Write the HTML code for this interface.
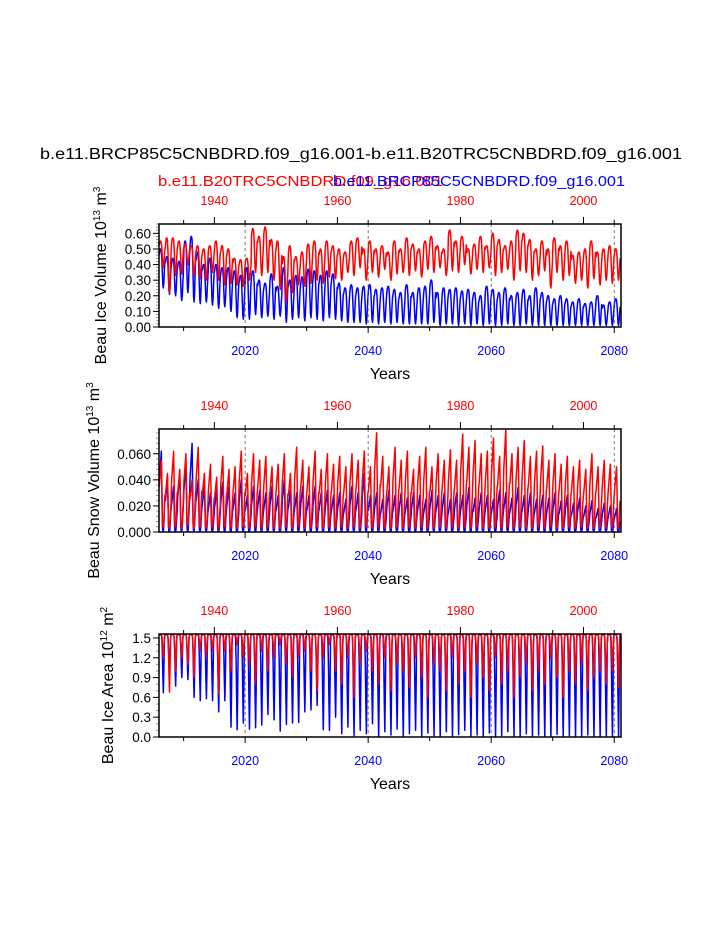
<!DOCTYPE html>
<html><head><meta charset="utf-8">
<style>
html,body{margin:0;padding:0;background:#fff;}
svg{display:block;font-family:"Liberation Sans",Arial,sans-serif;}
</style></head>
<body>
<svg id="chart" width="723" height="935" viewBox="0 0 723 935" xmlns="http://www.w3.org/2000/svg">
<text x="361" y="159" font-size="16" text-anchor="middle" fill="#000" textLength="642" lengthAdjust="spacingAndGlyphs">b.e11.BRCP85C5CNBDRD.f09_g16.001-b.e11.B20TRC5CNBDRD.f09_g16.001</text>
<text x="158" y="186" font-size="15" fill="#ff0000" textLength="285" lengthAdjust="spacingAndGlyphs">b.e11.B20TRC5CNBDRD.f09_g16.001</text>
<text x="625" y="186" font-size="15" text-anchor="end" fill="#0000ff" textLength="292" lengthAdjust="spacingAndGlyphs">b.e11.BRCP85C5CNBDRD.f09_g16.001</text>
<g id="plots"></g>
</svg>
<script>
const blueYearTicks=[2020,2040,2060,2080];
const redYearTicks=[1940,1960,1980,2000];
const startYear=2006;
const shapeVol=[0.85,0.95,1,1,0.95,0.75,0.4,0.08,0,0.15,0.45,0.7];
const shapeSnow=[0.6,0.7,0.8,0.9,1,0.6,0.1,0,0,0.1,0.3,0.45];
const shapeArea=[1,1,1,1,1,0.95,0.7,0.3,0,0.4,0.9,1];

const volRedMax=[0.55,0.57,0.57,0.55,0.53,0.52,0.52,0.50,0.52,0.55,0.52,0.50,0.44,0.43,0.44,0.63,0.58,0.64,0.56,0.55,0.45,0.52,0.45,0.48,0.53,0.55,0.50,0.55,0.52,0.50,0.48,0.55,0.57,0.50,0.55,0.50,0.52,0.48,0.55,0.50,0.57,0.53,0.50,0.55,0.58,0.52,0.50,0.62,0.55,0.58,0.50,0.53,0.58,0.52,0.60,0.56,0.52,0.55,0.62,0.60,0.56,0.50,0.55,0.50,0.57,0.52,0.55,0.46,0.48,0.50,0.55,0.48,0.50,0.52,0.50];
const volRedMin=[0.38,0.22,0.33,0.34,0.40,0.33,0.31,0.30,0.35,0.30,0.27,0.28,0.27,0.26,0.30,0.35,0.33,0.35,0.30,0.24,0.16,0.22,0.27,0.26,0.28,0.30,0.28,0.32,0.31,0.30,0.35,0.33,0.38,0.30,0.35,0.32,0.37,0.30,0.34,0.35,0.33,0.36,0.32,0.37,0.35,0.38,0.33,0.36,0.35,0.40,0.34,0.37,0.35,0.38,0.33,0.35,0.37,0.30,0.36,0.35,0.30,0.33,0.36,0.25,0.35,0.30,0.33,0.28,0.30,0.25,0.31,0.27,0.30,0.28,0.30];
const volBlueMax=[0.50,0.45,0.44,0.42,0.55,0.58,0.48,0.40,0.44,0.40,0.38,0.38,0.36,0.33,0.38,0.36,0.30,0.28,0.34,0.26,0.38,0.30,0.33,0.32,0.37,0.36,0.33,0.36,0.34,0.28,0.25,0.27,0.25,0.26,0.27,0.24,0.25,0.26,0.24,0.22,0.27,0.22,0.25,0.26,0.30,0.22,0.25,0.24,0.25,0.23,0.24,0.22,0.20,0.26,0.24,0.22,0.25,0.20,0.22,0.24,0.20,0.25,0.22,0.20,0.18,0.20,0.18,0.16,0.18,0.15,0.16,0.20,0.14,0.16,0.18];
const volBlueMin=[0.25,0.21,0.20,0.17,0.22,0.16,0.15,0.16,0.14,0.12,0.13,0.10,0.06,0.05,0.05,0.08,0.06,0.07,0.05,0.07,0.03,0.05,0.06,0.04,0.06,0.05,0.04,0.06,0.05,0.04,0.03,0.03,0.03,0.02,0.03,0.02,0.03,0.02,0.03,0.02,0.02,0.02,0.02,0.02,0.03,0.01,0.02,0.02,0.01,0.02,0.01,0.02,0.01,0.02,0.01,0.01,0.02,0.01,0.01,0.02,0.01,0.01,0.01,0.01,0.01,0.01,0.01,0.01,0.01,0.01,0.01,0.01,0.01,0.01,0.01];

const snowRedMax=[0.055,0.045,0.062,0.048,0.060,0.040,0.065,0.045,0.052,0.042,0.058,0.048,0.050,0.062,0.045,0.060,0.055,0.058,0.050,0.052,0.060,0.045,0.065,0.055,0.050,0.062,0.048,0.060,0.052,0.058,0.050,0.060,0.055,0.062,0.050,0.076,0.058,0.050,0.065,0.055,0.062,0.048,0.058,0.065,0.050,0.060,0.055,0.063,0.055,0.075,0.065,0.070,0.060,0.062,0.072,0.058,0.078,0.060,0.065,0.070,0.058,0.062,0.066,0.055,0.060,0.052,0.058,0.050,0.055,0.048,0.060,0.050,0.055,0.052,0.050];
const snowRedMin=[0.004,0.003,0.004,0.003,0.005,0.003,0.004,0.003,0.004,0.003,0.004,0.003,0.003,0.004,0.003,0.004,0.003,0.004,0.003,0.003,0.004,0.003,0.004,0.003,0.003,0.004,0.003,0.004,0.003,0.004,0.003,0.004,0.003,0.004,0.003,0.004,0.003,0.003,0.004,0.003,0.004,0.003,0.004,0.003,0.003,0.004,0.003,0.004,0.003,0.004,0.003,0.004,0.003,0.003,0.004,0.003,0.004,0.003,0.004,0.003,0.003,0.004,0.003,0.004,0.003,0.003,0.004,0.003,0.004,0.003,0.003,0.004,0.003,0.004,0.003];
const snowBlueMax=[0.062,0.040,0.035,0.045,0.052,0.068,0.040,0.035,0.030,0.032,0.038,0.035,0.030,0.040,0.028,0.035,0.032,0.030,0.035,0.028,0.040,0.032,0.030,0.035,0.028,0.035,0.030,0.032,0.028,0.030,0.025,0.035,0.030,0.045,0.028,0.030,0.025,0.032,0.028,0.030,0.026,0.030,0.028,0.025,0.032,0.028,0.030,0.025,0.030,0.028,0.034,0.026,0.030,0.028,0.025,0.032,0.030,0.026,0.034,0.028,0.030,0.025,0.028,0.026,0.030,0.024,0.028,0.022,0.026,0.020,0.024,0.018,0.022,0.020,0.018];
const snowBlueMin=[0,0,0,0,0,0,0,0,0,0,0,0,0,0,0,0,0,0,0,0,0,0,0,0,0,0,0,0,0,0,0,0,0,0,0,0,0,0,0,0,0,0,0,0,0,0,0,0,0,0,0,0,0,0,0,0,0,0,0,0,0,0,0,0,0,0,0,0,0,0,0,0,0,0,0];

const areaMax=1.55;
const areaRedMin=[1.2,0.68,1.0,1.2,1.1,0.9,1.3,1.2,1.3,0.65,1.3,1.0,1.4,1.2,1.1,0.8,1.3,1.0,1.2,1.4,1.1,0.9,1.2,1.3,1.0,0.7,1.2,1.4,1.0,0.8,1.2,0.6,1.1,1.3,1.0,0.8,1.2,0.7,1.1,1.0,0.75,1.2,0.9,0.6,1.1,1.0,0.7,1.2,0.8,1.0,0.6,1.1,0.9,0.7,1.2,0.8,1.0,0.6,0.9,1.1,0.7,1.0,0.8,1.2,0.9,0.6,1.0,0.8,1.1,0.7,0.9,1.0,0.8,1.0,0.75];
const areaBlueMin=[0.67,0.93,0.77,0.9,0.87,0.6,0.55,0.58,0.55,0.38,0.55,0.15,0.11,0.21,0.12,0.14,0.18,0.34,0.26,0.09,0.19,0.21,0.22,0.38,0.41,0.48,0.11,0.10,0.30,0.05,0.15,0.02,0.10,0.05,0.20,0.0,0.08,0.03,0.12,0.0,0.05,0.10,0.0,0.06,0.02,0.0,0.08,0.0,0.04,0.10,0.0,0.03,0.0,0.06,0.0,0.02,0.08,0.0,0.0,0.05,0.0,0.03,0.0,0.0,0.04,0.0,0.02,0.0,0.0,0.03,0.0,0.0,0.02,0.0,0.0];

const NS="http://www.w3.org/2000/svg";
const root=document.getElementById('plots');
function el(tag,attrs,parent){const e=document.createElementNS(NS,tag);for(const k in attrs)e.setAttribute(k,attrs[k]);(parent||root).appendChild(e);return e;}
const X0=159,X1=621,T0=2006,T1=2081.1;
const xs=t=>X0+(t-T0)/(T1-T0)*(X1-X0);

function series(g,maxArr,minArr,shape,ys,color,name){
  const n=Math.min(minArr.length,Array.isArray(maxArr)?maxArr.length:minArr.length);
  let d='';
  for(let y=0;y<n;y++){
    const mx=Array.isArray(maxArr)?maxArr[y]:maxArr;
    for(let m=0;m<12;m++){
      const v=minArr[y]+(mx-minArr[y])*shape[m];
      const t=startYear+y+(m+0.5)/12;
      d+=(d?'L':'M')+xs(t).toFixed(2)+','+ys(v).toFixed(2);
    }
  }
  const p=el('path',{d:d,fill:'none',stroke:color,'stroke-width':1.5,'stroke-linejoin':'round'},g);
  
  
}

function panel(cfg){
  const g=el('g',{});
  
  
  const top=cfg.top,bot=cfg.bot;
  const ys=v=>bot-(v-cfg.ymin)/(cfg.ymax-cfg.ymin)*(bot-top);
  const cid='clip'+cfg.name;
  const cp=el('clipPath',{id:cid},g);el('rect',{x:X0,y:top,width:X1-X0,height:bot-top},cp);
  for(let v=cfg.ymin;v<=cfg.ymax+1e-9;v+=cfg.minor){
    const t=el('line',{x1:X0-3,x2:X0,y1:ys(v),y2:ys(v),stroke:'#999','stroke-width':1},g);
    
    
  }
  cfg.yticks.forEach((v,i)=>{
    const t=el('line',{x1:X0-6,x2:X0,y1:ys(v),y2:ys(v),stroke:'#000','stroke-width':1},g);
    
    
    const tx=el('text',{x:X0-8,y:ys(v)+5,'font-size':13.5,'text-anchor':'end'},g);
    tx.textContent=cfg.ylabels[i];
    
    
  });
  const data=el('g',{'clip-path':'url(#'+cid+')'},g);
  cfg.draw(data,ys);
  blueYearTicks.forEach(yr=>{
    const l=el('line',{x1:xs(yr),x2:xs(yr),y1:top,y2:bot,stroke:'#555','stroke-width':0.8,'stroke-dasharray':'3,3'},g);
    
    
  });
  for(let yr=2010;yr<=2080;yr+=10){
    const maj=blueYearTicks.includes(yr);
    const t=el('line',{x1:xs(yr),x2:xs(yr),y1:bot,y2:bot+(maj?6:4),stroke:'#000','stroke-width':1},g);
    
    
  }
  blueYearTicks.forEach(yr=>{
    const tx=el('text',{x:xs(yr),y:bot+28,'font-size':12.5,'text-anchor':'middle',fill:'#0000ff'},g);
    tx.textContent=yr;
    
    
  });
  for(let yr=1935;yr<=2005;yr+=10){
    const t=el('line',{x1:xs(yr+75),x2:xs(yr+75),y1:top,y2:top-4,stroke:'#000','stroke-width':1},g);
    
    
  }
  redYearTicks.forEach(yr=>{
    const t=el('line',{x1:xs(yr+75),x2:xs(yr+75),y1:top,y2:top-7,stroke:'#000','stroke-width':1},g);
    
    
    const tx=el('text',{x:xs(yr+75),y:top-19,'font-size':12.5,'text-anchor':'middle',fill:'#ff0000'},g);
    tx.textContent=yr;
    
    
  });
  const fr=el('rect',{x:X0,y:top,width:X1-X0,height:bot-top,fill:'none',stroke:'#000','stroke-width':1.5},g);
  
  
  const xt=el('text',{x:390,y:bot+52,'font-size':16,'text-anchor':'middle'},g);
  xt.textContent='Years';
  
  
  const yt=el('text',{transform:'translate('+cfg.ytx+','+((top+bot)/2)+') rotate(-90)','font-size':16,'text-anchor':'middle'},g);
  yt.innerHTML=cfg.ytitle;
  
  
}

panel({name:'ice-volume-panel',top:224,bot:327,ymin:0,ymax:0.66,minor:0.02,
  yticks:[0,0.1,0.2,0.3,0.4,0.5,0.6],ylabels:['0.00','0.10','0.20','0.30','0.40','0.50','0.60'],ytx:106,
  ytitle:'Beau Ice Volume 10<tspan font-size="10" dy="-6">13</tspan><tspan dy="6"> m</tspan><tspan font-size="10" dy="-6">3</tspan>',
  draw:(g,ys)=>{series(g,volBlueMax,volBlueMin,shapeVol,ys,'#0000ff','ice-volume-blue-line');series(g,volRedMax,volRedMin,shapeVol,ys,'#ff0000','ice-volume-red-line');}});
panel({name:'snow-volume-panel',top:429,bot:532,ymin:0,ymax:0.079,minor:0.004,
  yticks:[0,0.02,0.04,0.06],ylabels:['0.000','0.020','0.040','0.060'],ytx:99,
  ytitle:'Beau Snow Volume 10<tspan font-size="10" dy="-6">13</tspan><tspan dy="6"> m</tspan><tspan font-size="10" dy="-6">3</tspan>',
  draw:(g,ys)=>{series(g,snowBlueMax,snowBlueMin,shapeSnow,ys,'#0000ff','snow-volume-blue-line');series(g,snowRedMax,snowRedMin,shapeSnow,ys,'#ff0000','snow-volume-red-line');}});
panel({name:'ice-area-panel',top:634,bot:737,ymin:0,ymax:1.56,minor:0.1,
  yticks:[0,0.3,0.6,0.9,1.2,1.5],ylabels:['0.0','0.3','0.6','0.9','1.2','1.5'],ytx:113,
  ytitle:'Beau Ice Area 10<tspan font-size="10" dy="-6">12</tspan><tspan dy="6"> m</tspan><tspan font-size="10" dy="-6">2</tspan>',
  draw:(g,ys)=>{series(g,areaMax,areaBlueMin,shapeArea,ys,'#0000ff','ice-area-blue-line');series(g,areaMax,areaRedMin,shapeArea,ys,'#ff0000','ice-area-red-line');}});
</script>
</body></html>
